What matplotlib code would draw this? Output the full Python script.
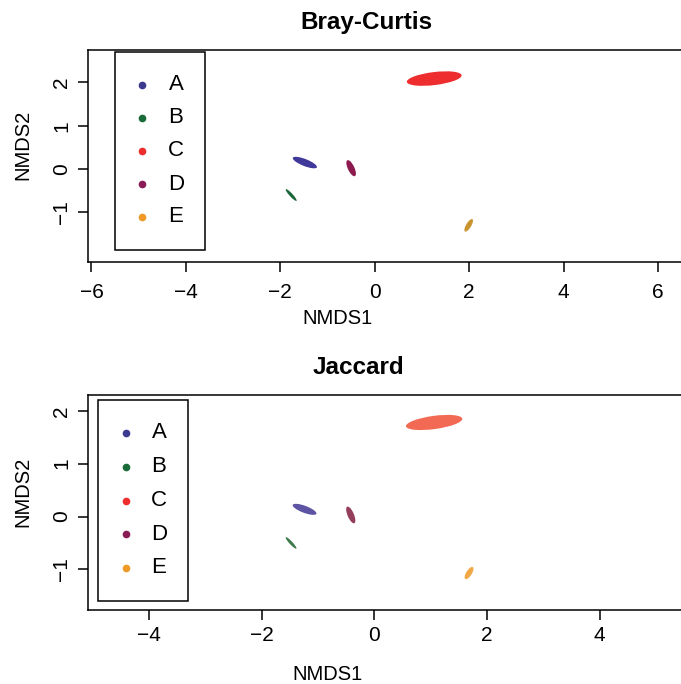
import numpy as np
import matplotlib
matplotlib.use("Agg")
import matplotlib.pyplot as plt
from matplotlib.patches import Ellipse, Rectangle
from matplotlib.lines import Line2D

plt.rcParams['font.family'] = ['Liberation Sans', 'DejaVu Sans']

# groups and colours
groups = ['A', 'B', 'C', 'D', 'E']
legend_colors = ['#3c3a8e', '#1a6b3a', '#ee2d2d', '#8a1c55', '#ee9a26']
bc_colors = ['#40399a', '#1b6638', '#ee2d2f', '#8c1a4f', '#c99530']
jac_colors = ['#5d54a3', '#3f7a4a', '#f26a54', '#933e5b', '#f2a846']

# Bray-Curtis ellipses (centre, semi axes, angle)
bc_x = [-1.48, -1.77, 1.26, -0.50, 1.99]
bc_y = [0.15, -0.60, 2.09, 0.02, -1.30]
bc_a = [0.277, 0.176, 0.585, 0.20, 0.163]
bc_b = [0.08, 0.035, 0.15, 0.07, 0.055]
bc_angle = [-23.6, -50.0, 7.6, -67.0, 61.7]

# Jaccard ellipses
jac_x = [-1.24, -1.48, 1.06, -0.42, 1.68]
jac_y = [0.136, -0.50, 1.78, 0.03, -1.07]
jac_a = [0.226, 0.143, 0.505, 0.169, 0.131]
jac_b = [0.066, 0.028, 0.125, 0.057, 0.05]
jac_angle = [-22.0, -49.0, 8.3, -68.4, 60.0]

W, H = 681, 684
fig = plt.figure(figsize=(W/100, H/100), dpi=100)

def px_axes(left, top, right, bottom):
    return fig.add_axes([left/W, 1-bottom/H, (right-left)/W, (bottom-top)/H])

def fx(px):
    return px/W

def fy(py):
    return 1 - py/H

def style_axes(ax, xticks, xpad):
    for s in ax.spines.values():
        s.set_linewidth(1.1)
    ax.set_xticks(xticks)
    ax.set_yticks([-1, 0, 1, 2])
    ax.tick_params(axis='both', direction='out', length=7, width=1.1, labelsize=15)
    ax.tick_params(axis='x', pad=xpad)
    ax.tick_params(axis='y', pad=5)
    for lab in ax.get_yticklabels():
        lab.set_rotation(90)
        lab.set_va('center')

def draw_legend(left, top, right, bottom, dot_x, text_x, rows):
    fig.add_artist(Rectangle((fx(left), fy(bottom)), fx(right)-fx(left), fy(top)-fy(bottom),
                             transform=fig.transFigure, fill=False, lw=1.1, ec='black'))
    for g, c, ry in zip(groups, legend_colors, rows):
        fig.add_artist(Line2D([fx(dot_x)], [fy(ry)], transform=fig.transFigure,
                              marker='o', ms=4.5, color=c, ls='none'))
        fig.text(fx(text_x), fy(ry), g, ha='center', va='center', fontsize=16)

# top panel
ax1 = px_axes(87.7, 50, 700, 261.7)
for i in range(len(groups)):
    ax1.add_patch(Ellipse((bc_x[i], bc_y[i]), 2*bc_a[i], 2*bc_b[i], angle=bc_angle[i],
                          fc=bc_colors[i], ec='none'))
ax1.set_xlim(-6.08, 6.89)
ax1.set_ylim(-2.14, 2.75)
style_axes(ax1, [-6, -4, -2, 0, 2, 4, 6], 8)
fig.text(fx(366), fy(22), 'Bray-Curtis', ha='center', va='center', fontsize=17.5, fontweight='bold')
fig.text(fx(338), fy(318), 'NMDS1', ha='center', va='center', fontsize=14.5)
fig.text(fx(23), fy(145), 'NMDS2', ha='center', va='center', fontsize=14.5, rotation=90)
draw_legend(115, 51.7, 205, 250, 141.7, 176, [85, 117.7, 151, 184, 217])

# bottom panel
ax2 = px_axes(87.7, 395, 700, 609.5)
for i in range(len(groups)):
    ax2.add_patch(Ellipse((jac_x[i], jac_y[i]), 2*jac_a[i], 2*jac_b[i], angle=jac_angle[i],
                          fc=jac_colors[i], ec='none'))
ax2.set_xlim(-5.09, 5.78)
ax2.set_ylim(-1.76, 2.30)
style_axes(ax2, [-4, -2, 0, 2, 4], 5)
fig.text(fx(358), fy(368), 'Jaccard', ha='center', va='center', fontsize=17.5, fontweight='bold')
fig.text(fx(327), fy(674), 'NMDS1', ha='center', va='center', fontsize=14.5)
fig.text(fx(23), fy(492), 'NMDS2', ha='center', va='center', fontsize=14.5, rotation=90)
draw_legend(98.3, 400, 188.3, 601, 125.7, 159, [433, 467, 500.7, 534, 567.7])

fig.savefig('out.png', dpi=100)
